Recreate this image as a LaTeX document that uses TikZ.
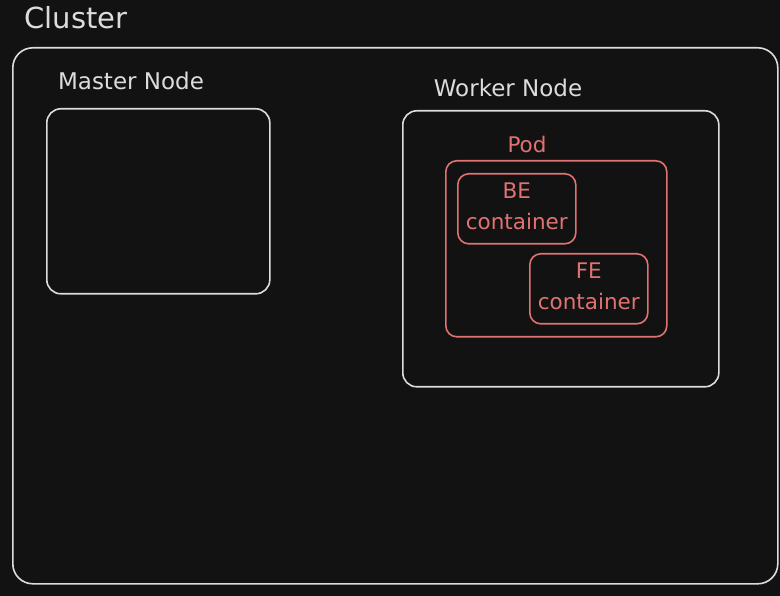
\documentclass[tikz,border=0pt]{standalone}
\usepackage{fontspec}
\setmainfont{DejaVu Sans}
\usepackage{tikz}
\usetikzlibrary{calc}
\usepackage{xcolor}
\definecolor{bgDark}{HTML}{121212}
\definecolor{lineWhite}{HTML}{DCDCDC}
\definecolor{podRed}{HTML}{E07272}

\begin{document}
\begin{tikzpicture}[x=1pt, y=-1pt,
        box/.style={draw=lineWhite, line width=1.6pt, rounded corners=14pt, anchor=north west, inner sep=0pt},
        redbox/.style={box, draw=podRed, rounded corners=11pt},
        label/.style={text=lineWhite, font=\fontsize{23}{23}\selectfont},
        redlabel/.style={text=podRed, font=\fontsize{21.5}{31}\selectfont, align=center}]
        \fill [bgDark] (0,0) rectangle (780,596);
        \useasboundingbox (0,0) rectangle (780,596);
        \node [label, font=\fontsize{29}{29}\selectfont] (clusterText) at (76,18) {Cluster};
        \node [box, minimum width=765pt, minimum height=536pt, rounded corners=20pt] (cluster) at (12,47) {};
        \node [label] (masterText) at (131,81) {Master Node};
        \node [box, minimum width=223pt, minimum height=185pt] (master) at (46,108) {};
        \node [label] (workerText) at (508,88) {Worker Node};
        \node [box, minimum width=316pt, minimum height=276pt] (worker) at (402,110) {};
        \node [redlabel] (podText) at (527,144) {Pod};
        \node [redbox, minimum width=221pt, minimum height=176pt] (pod) at (445,160) {};
        \node [redbox, minimum width=118pt, minimum height=70pt] (be) at (457,173) {};
        \node [redlabel] (beText) at ($(be.center)+(0,-2)$) {BE\\container};
        \node [redbox, minimum width=118pt, minimum height=70pt] (fe) at (529,253) {};
        \node [redlabel] (feText) at ($(fe.center)+(0,-2)$) {FE\\container};
    \end{tikzpicture}
\end{document}
